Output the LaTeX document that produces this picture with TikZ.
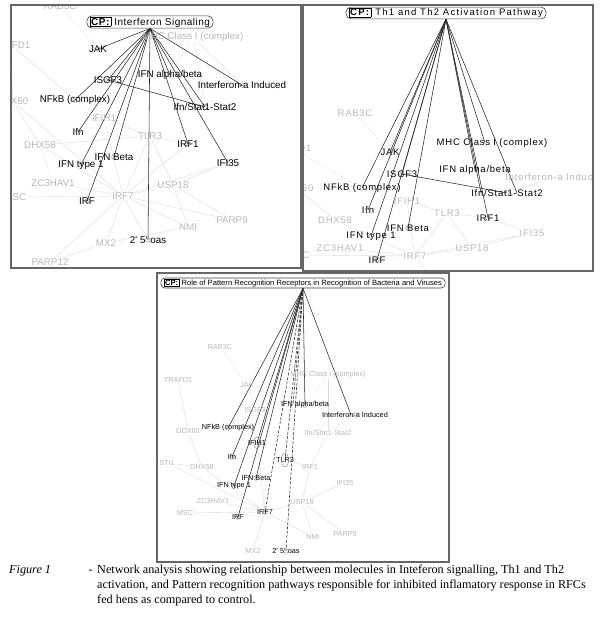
\documentclass[tikz,border=0pt]{standalone}
\usepackage{fontspec}
\setmainfont{Liberation Serif}
\setsansfont{Liberation Sans}

\pgfdeclarelayer{background}
\pgfsetlayers{background,main}

\newcommand{\cptag}{{\setlength{\fboxsep}{0.8pt}\setlength{\fboxrule}{0.4pt}\fbox{\textbf{CP:}}}}

\begin{document}
\begin{tikzpicture}[x=1pt,y=-1pt,
  psize/.style={font=\sffamily\fontsize{9.8}{10}\selectfont},
  cpsize/.style={font=\sffamily\fontsize{10}{11}\selectfont\addfontfeatures{LetterSpace=5}},
  mol/.style={psize,inner sep=0.5pt,text=black},
  bgmol/.style={psize,inner sep=0.5pt,text=black!28},
  cp/.style={cpsize,draw=black!75,line width=0.6pt,rounded corners=5pt,inner xsep=3pt,inner ysep=1pt,fill=white},
  link/.style={draw=black!85,line width=0.55pt},
  dlink/.style={link,dash pattern=on 3pt off 1.5pt},
  bgline/.style={draw=black!14,line width=0.4pt},
  bgdash/.style={bgline,dash pattern=on 2pt off 1.5pt},
  glyph/.style={draw=black!50,line width=0.4pt},
  frame/.style={draw=black!60,line width=1.3pt},
  captxt/.style={font=\fontsize{12.2}{14}\selectfont,inner sep=0pt,anchor=base west}]
\useasboundingbox (0,0) rectangle (600,619);

% panel 1: interferon signaling
\begin{scope}
  \clip (11,5) rectangle (301,268);
  % grey molecules
  \node[bgmol] (rabA)   at (60,6)    {RAB3C};
  \node[bgmol,anchor=east] (trafdA) at (31,45) {TRAFD1};
  \node[bgmol] (mhcA)   at (193,37)  {MHC Class I (complex)};
  \node[bgmol,anchor=east] (ddxA) at (29,101) {DDX60};
  \node[bgmol] (ifihA)  at (104,118) {IFIH1};
  \node[bgmol] (tlrA)   at (150,136) {TLR3};
  \node[bgmol] (dhxA)   at (40,145)  {DHX58};
  \node[bgmol] (zcA)    at (53,183)  {ZC3HAV1};
  \node[bgmol] (uspA)   at (173,185) {USP18};
  \node[bgmol,anchor=east] (mscA) at (27,197) {MSC};
  \node[bgmol] (irfsevA) at (123,196) {IRF7};
  \node[bgmol] (nmiA)   at (188,227) {NMI};
  \node[bgmol] (parpA)  at (232,220) {PARP9};
  \node[bgmol] (mxA)    at (106,243) {MX2};
  \node[bgmol] (parptA) at (50,262)  {PARP12};
  % molecules of the pathway
  \node[cp] (cpA) at (150,22) {\cptag{} Interferon Signaling};
  \node[mol] (jakA)    at (98,49)   {JAK};
  \node[mol] (isgfA)   at (108,80)  {ISGF3};
  \node[mol] (ifnabA)  at (170,75)  {IFN alpha/beta};
  \node[mol] (indA)    at (242,85)  {Interferon-a Induced};
  \node[mol] (nfkbA)   at (75,100)  {NFkB (complex)};
  \node[mol] (statA)   at (205,107) {Ifn/Stat1-Stat2};
  \node[mol] (ifnA)    at (78,132)  {Ifn};
  \node[mol] (irfoneA) at (188,144) {IRF1};
  \node[mol] (betaA)   at (114,157) {IFN Beta};
  \node[mol] (typeA)   at (81,165)  {IFN type 1};
  \node[mol] (ifiA)    at (228,163) {IFI35};
  \node[mol] (irfA)    at (87,201)  {IRF};
  \node[mol] (oasA)    at (148,240) {2' 5' oas};
\end{scope}

\begin{pgfonlayer}{background}
\begin{scope}
  \clip (11,5) rectangle (301,268);
  \path[bgline] (irfsevA) edge (dhxA) edge (zcA) edge (mscA) edge (mxA)
        edge (parptA) edge (uspA) edge (nmiA) edge (tlrA) edge (ifihA)
        edge (ddxA) edge (parpA) edge (irfoneA) edge (ifiA) edge (oasA)
      (tlrA) edge (ifihA) edge (uspA) edge (irfoneA) edge (dhxA)
      (uspA) edge (parpA) edge (nmiA) edge (ifiA)
      (trafdA) edge (ddxA) edge (nfkbA)
      (mhcA) edge (indA) edge (statA)
      (ddxA) edge (dhxA)
      (mxA) edge (parptA) edge (nmiA);
  \path[bgdash] (rabA) edge (jakA)
      (dhxA) edge (zcA)
      (mhcA) edge (ifnabA)
      (ifihA) edge (nfkbA);
  \path[link] (cpA.south) edge (jakA.center) edge (nfkbA.center)
        edge (ifnA.center) edge (typeA.center) edge (betaA.center)
        edge (irfA.center) edge (isgfA.center) edge (ifnabA.center)
        edge (oasA.center) edge (statA.center) edge (irfoneA.center)
        edge (ifiA.center) edge (indA.center)
      (isgfA.center) edge (statA.center);
\end{scope}
\end{pgfonlayer}

% panel 2: th1 and th2 activation
\begin{scope}[psize/.style={font=\sffamily\fontsize{9.5}{10}\selectfont\addfontfeatures{LetterSpace=8}},
    cpsize/.style={font=\sffamily\fontsize{9.5}{10}\selectfont\addfontfeatures{LetterSpace=13}}]
  \clip (303,5) rectangle (593,271);
  \node[bgmol] (rabB)   at (355,113) {RAB3C};
  \node[bgmol,anchor=east] (trafdB) at (312,148) {TRAFD1};
  \node[bgmol] (indB)   at (555,177) {Interferon-a Induced};
  \node[bgmol,anchor=east] (ddxB) at (314,188) {DDX60};
  \node[bgmol] (ifihB)  at (407,201) {IFIH1};
  \node[bgmol] (tlrB)   at (447,213) {TLR3};
  \node[bgmol] (dhxB)   at (335,220) {DHX58};
  \node[bgmol] (ifiB)   at (532,233) {IFI35};
  \node[bgmol] (zcB)    at (340,248) {ZC3HAV1};
  \node[bgmol] (uspB)   at (472,248) {USP18};
  \node[bgmol,anchor=east] (mscB) at (310,255) {MSC};
  \node[bgmol] (irfsevB) at (415,256) {IRF7};
  \coordinate (downB) at (440,290);
  \node[cp] (cpB) at (446,13) {\cptag{} Th1 and Th2 Activation Pathway};
  \node[mol] (mhcB)    at (492,143) {MHC Class I (complex)};
  \node[mol] (jakB)    at (390,152) {JAK};
  \node[mol] (isgfB)   at (402,174) {ISGF3};
  \node[mol] (ifnabB)  at (475,170) {IFN alpha/beta};
  \node[mol] (nfkbB)   at (362,188) {NFkB (complex)};
  \node[mol] (statB)   at (507,193) {Ifn/Stat1-Stat2};
  \node[mol] (ifnB)    at (368,210) {Ifn};
  \node[mol] (irfoneB) at (488,218) {IRF1};
  \node[mol] (betaB)   at (408,228) {IFN Beta};
  \node[mol] (typeB)   at (371,236) {IFN type 1};
  \node[mol] (irfB)    at (377,260) {IRF};
\end{scope}

\begin{pgfonlayer}{background}
\begin{scope}
  \clip (303,5) rectangle (593,271);
  \path[bgline] (irfsevB) edge (dhxB) edge (zcB) edge (mscB) edge (tlrB)
        edge (ifihB) edge (uspB) edge (ifiB) edge (downB)
      (tlrB) edge (ifihB) edge (uspB) edge (irfoneB)
      (uspB) edge (ifiB)
      (ddxB) edge (dhxB)
      (indB) edge (statB)
      (ifiB) edge (irfoneB);
  \path[bgdash] (rabB) edge (jakB)
      (trafdB) edge (nfkbB);
  \path[link] (cpB.south) edge (jakB.center) edge (nfkbB.center)
        edge (ifnB.center) edge (typeB.center) edge (betaB.center)
        edge (irfB.center) edge (isgfB.center) edge ([xshift=-7pt]mhcB.center)
        edge (ifnabB.center) edge ([xshift=-26pt]statB.center)
        edge ([xshift=10pt]statB.center) edge (irfoneB.center)
      (isgfB.center) edge (statB.center);
\end{scope}
\end{pgfonlayer}

% panel 3: pattern recognition receptors
\begin{scope}[psize/.style={font=\sffamily\fontsize{7.3}{8}\selectfont},
    cpsize/.style={font=\sffamily\fontsize{7.6}{8}\selectfont}]
  \clip (157,273) rectangle (449,562);
  \node[bgmol] (rabC)   at (220,347) {RAB3C};
  \node[bgmol] (trafdC) at (178,380) {TRAFD1};
  \node[bgmol] (jakC)   at (247,385) {JAK};
  \node[bgmol] (mhcC)   at (328,375) {MHC Class I (complex)};
  \node[bgmol] (isgfC)  at (255,410) {ISGF3};
  \node[bgmol] (ddxC)   at (188,431) {DDX60};
  \node[bgmol] (statC)  at (328,433) {Ifn/Stat1-Stat2};
  \node[bgmol] (stiC)   at (167,463) {STI1};
  \node[bgmol] (dhxC)   at (202,467) {DHX58};
  \node[bgmol] (irfoneC) at (310,467) {IRF1};
  \node[bgmol] (ifiC)   at (345,483) {IFI35};
  \node[bgmol] (zcC)    at (213,501) {ZC3HAV1};
  \node[bgmol] (uspC)   at (302,502) {USP18};
  \node[bgmol] (mscC)   at (185,513) {MSC};
  \node[bgmol] (nmiC)   at (313,537) {NMI};
  \node[bgmol] (parpC)  at (345,534) {PARP9};
  \node[bgmol] (mxC)    at (253,551) {MX2};
  \node[cp,rounded corners=4pt] (cpC) at (303,283)
    {\cptag{} Role of Pattern Recognition Receptors in Recognition of Bacteria and Viruses};
  \node[mol] (ifnabC)  at (305,405) {IFN alpha/beta};
  \node[mol] (indC)    at (355,415) {Interferon-a Induced};
  \node[mol] (nfkbC)   at (228,428) {NFkB (complex)};
  \node[mol] (ifihC)   at (257,443) {IFIH1};
  \node[mol] (ifnC)    at (232,457) {Ifn};
  \node[mol] (tlrC)    at (285,460) {TLR3};
  \node[mol] (betaC)   at (256,478) {IFN Beta};
  \node[mol] (typeC)   at (234,486) {IFN type 1};
  \node[mol] (irfC)    at (238,517) {IRF};
  \node[mol] (irfsevC) at (265,512) {IRF7};
  \node[mol] (oasC)    at (286,551) {2' 5' oas};
\end{scope}

\begin{pgfonlayer}{background}
\begin{scope}
  \clip (157,273) rectangle (449,562);
  \path[bgline] (irfsevC) edge (dhxC) edge (zcC) edge (mscC) edge (mxC)
        edge (uspC) edge (nmiC) edge (ifihC) edge (stiC)
      (uspC) edge (parpC) edge (nmiC) edge (irfoneC) edge (ifiC)
      (statC) edge (mhcC) edge (irfoneC) edge (indC)
      (trafdC) edge (ddxC)
      (ddxC) edge (dhxC)
      (stiC) edge (dhxC)
      (tlrC) edge (irfoneC);
  \path[bgdash] (rabC) edge (jakC)
      (jakC) edge (isgfC)
      (mhcC) edge (ifnabC);
  \path[link] (cpC.south) edge (nfkbC.center) edge (ifnC.center)
        edge (typeC.center) edge (irfC.center) edge (ifihC.center)
        edge (betaC.center) edge (ifnabC.center) edge ([xshift=-4pt]indC.center);
  \path[dlink] (cpC.south) edge (tlrC.center) edge (irfsevC.center)
        edge (oasC.center) edge ([xshift=-12pt]ifnabC.center);
\end{scope}
\end{pgfonlayer}

% glyphs under the labels
\foreach \n in {jakA,isgfA,ifnabA,indA,nfkbA,statA,ifnA,irfoneA,betaA,typeA,ifiA,irfA,oasA,
    jakB,isgfB,nfkbB,statB,ifnB,irfoneB,betaB,typeB,irfB,
    nfkbC,ifnC,betaC,typeC,irfC,irfsevC,oasC,indC,ifnabC}
  \draw[glyph] (\n.center) circle (2.3pt);
\draw[glyph] (tlrC.center) ellipse (3.5pt and 7pt);
\draw[glyph] (ifihC.center) ellipse (3pt and 6pt);

% frames
\draw[frame] (11,5) rectangle (301,268);
\draw[frame] (303,5) rectangle (593,271);
\draw[frame] (157,273) rectangle (449,562);

% caption
\node[captxt] (figlab) at (9,573) {\textit{Figure 1}};
\node[captxt,anchor=base east] (figdash) at (93,573) {-};
\node[captxt] (capa) at (97,573) {Network analysis showing relationship between molecules in Inteferon signalling, Th1 and Th2};
\node[captxt] (capb) at (97,588) {activation, and Pattern recognition pathways responsible for inhibited inflamatory response in RFCs};
\node[captxt] (capc) at (97,603) {fed hens as compared to control.};
\end{tikzpicture}
\end{document}
